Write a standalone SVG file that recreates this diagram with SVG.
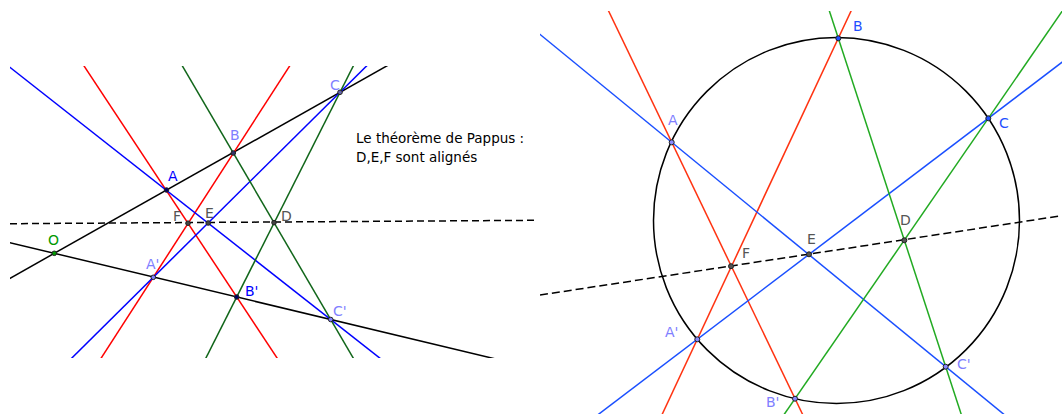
<svg xmlns="http://www.w3.org/2000/svg" width="1062" height="414" viewBox="0 0 1062 414">
<style>
  .ln{stroke-width:1.5;fill:none}
  .k{stroke:#000}
  .r1{stroke:#ff0000}
  .b1{stroke:#0000ff}
  .g1{stroke:#11661a}
  .r2{stroke:#ff3311}
  .b2{stroke:#1a4fff}
  .g2{stroke:#22aa22}
  .dash1{stroke:#000;stroke-width:1.5;stroke-dasharray:7 4}
  .dash2{stroke:#000;stroke-width:1.5;stroke-dasharray:8 4}
  .pt{stroke:#222;stroke-width:1}
  text{font-family:"DejaVu Sans","Liberation Sans",sans-serif;font-size:14px}
  .lb{fill:#8080ff}
  .db{fill:#0000ff}
  .bb{fill:#1f4fff}
  .gy{fill:#555555}
  .gr{fill:#009900}
  .note{fill:#000;font-size:13.5px}
</style>
<defs>
  <clipPath id="clipL"><rect x="10" y="66" width="527" height="292"/></clipPath>
  <clipPath id="clipR"><rect x="540" y="11" width="522" height="403"/></clipPath>
</defs>
<rect width="1062" height="414" fill="#fff"/>

<g id="connectors">
  <g id="left-lines" clip-path="url(#clipL)">
    <line class="ln k" x1="0" y1="283.9" x2="400" y2="58.5"/>
    <line class="ln k" x1="0" y1="240.3" x2="540" y2="369.6"/>
    <line class="dash1" x1="10" y1="223.7" x2="537" y2="220.3"/>
    <line class="ln r1" x1="80.1" y1="60" x2="281.7" y2="365"/>
    <line class="ln r1" x1="293.5" y1="60" x2="96.7" y2="365"/>
    <line class="ln b1" x1="0" y1="59.5" x2="388.6" y2="365"/>
    <line class="ln b1" x1="372.6" y1="60" x2="64.8" y2="365"/>
    <line class="ln g1" x1="178.9" y1="60" x2="357.3" y2="365"/>
    <line class="ln g1" x1="356.3" y1="60" x2="202.4" y2="365"/>
  </g>
  <g id="right-lines" clip-path="url(#clipR)">
    <circle class="ln k" cx="836.5" cy="220.5" r="183"/>
    <line class="dash2" x1="540" y1="295" x2="1062" y2="215.7"/>
    <line class="ln r2" x1="603.3" y1="0" x2="805.3" y2="420"/>
    <line class="ln r2" x1="856.2" y1="0" x2="659.5" y2="420"/>
    <line class="ln b2" x1="530" y1="26.2" x2="1010.8" y2="420"/>
    <line class="ln b2" x1="1070" y1="56.2" x2="591" y2="420"/>
    <line class="ln g2" x1="825.8" y1="0" x2="963.1" y2="420"/>
    <line class="ln g2" x1="1069.9" y1="0" x2="780.3" y2="420"/>
  </g>
</g>

<g id="left-A"><circle class="pt" cx="166.5" cy="190" r="2.3" fill="#000066"/><text class="db" x="168" y="181">A</text></g>
<g id="left-B"><circle class="pt" cx="233.3" cy="153" r="2.3" fill="#333366"/><text class="lb" x="230" y="140">B</text></g>
<g id="left-C"><circle class="pt" cx="340" cy="92.3" r="2.3" fill="#6666aa"/><text class="lb" x="330" y="90">C</text></g>
<g id="left-O"><circle class="pt" cx="54.3" cy="253.3" r="2.3" fill="#009900"/><text class="gr" x="48" y="245">O</text></g>
<g id="left-A2"><circle class="pt" cx="153.3" cy="277.3" r="2.3" fill="#8080ff"/><text class="lb" x="146" y="269">A'</text></g>
<g id="left-B2"><circle class="pt" cx="236.7" cy="297" r="2.3" fill="#000066"/><text class="db" x="245" y="296">B'</text></g>
<g id="left-C2"><circle class="pt" cx="330.7" cy="319.5" r="2.3" fill="#8080ff"/><text class="lb" x="333" y="316">C'</text></g>
<g id="left-F"><circle class="pt" cx="188" cy="223.2" r="2.3" fill="#444"/><text class="gy" x="173" y="221">F</text></g>
<g id="left-E"><circle class="pt" cx="208.2" cy="223" r="2.3" fill="#444"/><text class="gy" x="205" y="218">E</text></g>
<g id="left-D"><circle class="pt" cx="274" cy="222.6" r="2.3" fill="#444"/><text class="gy" x="281" y="221">D</text></g>

<g id="note">
  <text class="note" x="356" y="143">Le théorème de Pappus :</text>
  <text class="note" x="356" y="162">D,E,F sont alignés</text>
</g>

<g id="right-A"><circle class="pt" cx="671.7" cy="142.3" r="2.5" fill="#8888ff"/><text class="lb" x="668" y="125">A</text></g>
<g id="right-B"><circle class="pt" cx="838.3" cy="38.3" r="2.5" fill="#1f4fff"/><text class="bb" x="853" y="31">B</text></g>
<g id="right-C"><circle class="pt" cx="988.3" cy="118.3" r="2.5" fill="#1f4fff"/><text class="bb" x="999" y="128">C</text></g>
<g id="right-A2"><circle class="pt" cx="697.3" cy="339.3" r="2.5" fill="#8888ff"/><text class="lb" x="665" y="337">A'</text></g>
<g id="right-B2"><circle class="pt" cx="795" cy="398.7" r="2.5" fill="#8888ff"/><text class="lb" x="766" y="407">B'</text></g>
<g id="right-C2"><circle class="pt" cx="945.7" cy="366.7" r="2.5" fill="#8888ff"/><text class="lb" x="957" y="369">C'</text></g>
<g id="right-F"><circle class="pt" cx="731" cy="266.2" r="2.5" fill="#555"/><text class="gy" x="742" y="258">F</text></g>
<g id="right-E"><circle class="pt" cx="809" cy="254.3" r="2.5" fill="#555"/><text class="gy" x="807" y="244">E</text></g>
<g id="right-D"><circle class="pt" cx="904.3" cy="240.3" r="2.5" fill="#555"/><text class="gy" x="900" y="225">D</text></g>
</svg>
